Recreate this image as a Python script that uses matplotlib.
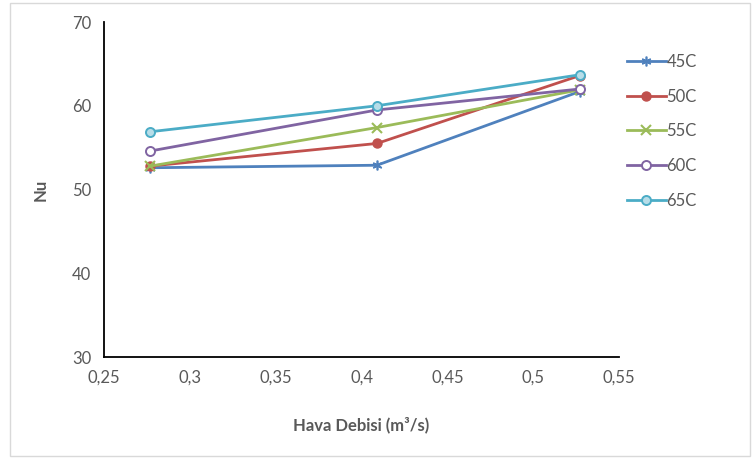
import matplotlib
matplotlib.use("Agg")
import matplotlib.pyplot as plt
from matplotlib.patches import Rectangle

# -------------------------
# Datos
# -------------------------
hava_debisi = [0.277, 0.409, 0.527]
nu_45 = [52.6, 52.9, 61.7]
nu_50 = [52.8, 55.5, 63.6]
nu_55 = [52.8, 57.4, 61.9]
nu_60 = [54.6, 59.5, 62.0]
nu_65 = [56.9, 60.0, 63.7]
etiquetas = ["45C", "50C", "55C", "60C", "65C"]

x_ticks = [0.25, 0.3, 0.35, 0.4, 0.45, 0.5, 0.55]
x_tick_labels = ["0,25", "0,3", "0,35", "0,4", "0,45", "0,5", "0,55"]
y_ticks = [30, 40, 50, 60, 70]

plt.rcParams["font.family"] = ["Lato", "DejaVu Sans"]

fig = plt.figure(figsize=(7.55, 4.59), dpi=100)
ax = fig.add_axes([0.1377, 0.2222, 0.6823, 0.7298])

# marco del área del gráfico
fig.patches.append(Rectangle((0.013, 0.006), 0.981, 0.987, transform=fig.transFigure,
                             fill=False, edgecolor="#d9d9d9", linewidth=1.0))

estilos = [
    dict(color="#4F81BD", marker=(6, 2, 0), markersize=7, markerfacecolor="#4F81BD",
         markeredgecolor="#4F81BD", markeredgewidth=1.2),
    dict(color="#C0504D", marker="o", markersize=6.5, markerfacecolor="#C0504D",
         markeredgecolor="#C0504D"),
    dict(color="#9BBB59", marker="x", markersize=6.5, markeredgecolor="#9BBB59",
         markeredgewidth=1.5),
    dict(color="#8064A2", marker="o", markersize=6.5, markerfacecolor="white",
         markeredgecolor="#8064A2", markeredgewidth=1.4),
    dict(color="#4BACC6", marker="o", markersize=6.5, markerfacecolor="#B7DDE8",
         markeredgecolor="#4BACC6", markeredgewidth=1.4),
]

series = [nu_45, nu_50, nu_55, nu_60, nu_65]
for valores, etiqueta, estilo in zip(series, etiquetas, estilos):
    ax.plot(hava_debisi, valores, label=etiqueta, linewidth=2.0, **estilo)

ax.set_xlim(0.25, 0.55)
ax.set_ylim(30, 70)
ax.set_xticks(x_ticks)
ax.set_xticklabels(x_tick_labels)
ax.set_yticks(y_ticks)
ax.tick_params(length=0, labelsize=12, colors="#595959", pad=9)

for lado in ["top", "right"]:
    ax.spines[lado].set_visible(False)
for lado in ["left", "bottom"]:
    ax.spines[lado].set_color("black")
    ax.spines[lado].set_linewidth(1.3)

ax.set_xlabel("Hava Debisi (m³/s)", fontsize=12, fontweight="bold", color="#595959",
              labelpad=22)
ax.set_ylabel("Nu", fontsize=12, fontweight="bold", color="#595959", labelpad=17)

leg = ax.legend(loc="upper left", bbox_to_anchor=(0.822, 0.897), bbox_transform=fig.transFigure,
                frameon=False, fontsize=12, handlelength=2.3, labelspacing=1.12,
                handletextpad=0.05, borderaxespad=0)
for t in leg.get_texts():
    t.set_color("#595959")

fig.savefig("out.png", dpi=100)
